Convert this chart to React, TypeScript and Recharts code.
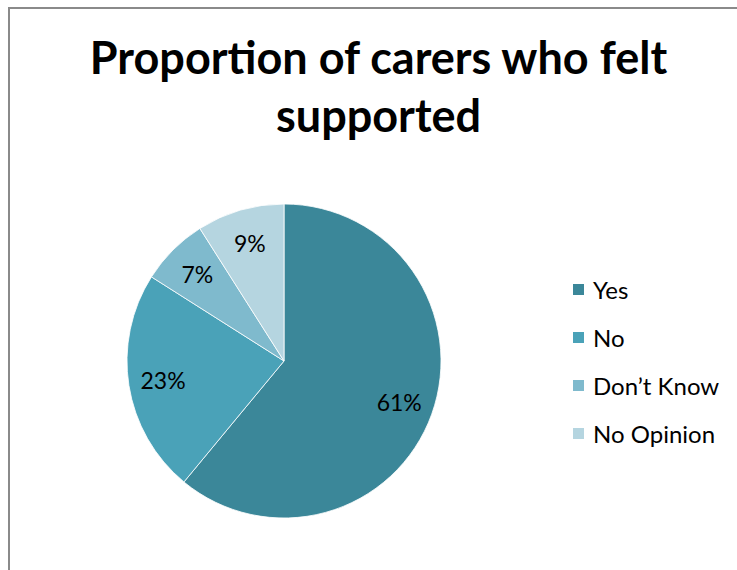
import { PieChart, Pie, Cell, Legend } from "recharts";

// Share of carers who felt supported (%)
const categories = ["Yes", "No", "Don\u2019t Know", "No Opinion"];
const shares = [61, 23, 7, 9];
const colors = ["#3B8799", "#4AA2B8", "#7FBACD", "#B5D5E0"];

const data = categories.map((name, i) => ({ name, value: shares[i] }));

const FONT = "Lato, 'Open Sans', sans-serif";
const RAD = Math.PI / 180;

function renderLabel(props: any) {
  const { cx, cy, midAngle, outerRadius, value } = props;
  const r = outerRadius * 0.78;
  const x = cx + r * Math.cos(-midAngle * RAD);
  const y = cy + r * Math.sin(-midAngle * RAD);
  return (
    <text x={x} y={y} fill="#000" fontSize={23} fontFamily={FONT} textAnchor="middle" dominantBaseline="central">
      {`${value}%`}
    </text>
  );
}

function LegendBox() {
  return (
    <div style={{ fontFamily: FONT, fontSize: 24, color: "#000" }}>
      {data.map((d, i) => (
        <div key={d.name} style={{ display: "flex", alignItems: "center", height: 48 }}>
          <div style={{ width: 11, height: 11, background: colors[i], marginRight: 9 }} />
          <span>{d.name}</span>
        </div>
      ))}
    </div>
  );
}

export default function App() {
  return (
    <div style={{ position: "fixed", left: 0, top: 0, width: 737, height: 570, overflow: "hidden", background: "#fff" }}>
      <div style={{ position: "absolute", left: 8, top: 7, width: 800, height: 640, border: "2px solid #8a8a8a", boxSizing: "border-box" }} />
      <div
        style={{
          position: "absolute",
          left: 0,
          top: 28,
          width: 757,
          textAlign: "center",
          fontFamily: FONT,
          fontWeight: 700,
          fontSize: 45,
          lineHeight: "58px",
          color: "#000",
        }}
      >
        Proportion of carers who felt
        <br />
        supported
      </div>
      <div style={{ position: "absolute", left: 0, top: 0 }}>
        <PieChart width={737} height={570} margin={{ top: 0, right: 0, bottom: 0, left: 0 }}>
          <Pie
            data={data}
            dataKey="value"
            nameKey="name"
            cx={284}
            cy={361}
            outerRadius={157}
            startAngle={90}
            endAngle={-270}
            stroke="#ffffff"
            strokeWidth={0.8}
            label={renderLabel}
            labelLine={false}
            isAnimationActive={false}
          >
            {data.map((d, i) => (
              <Cell key={d.name} fill={colors[i]} />
            ))}
          </Pie>
          <Legend
            layout="vertical"
            content={<LegendBox />}
            wrapperStyle={{ position: "absolute", left: 573, top: 265, width: 164 }}
          />
        </PieChart>
      </div>
    </div>
  );
}
